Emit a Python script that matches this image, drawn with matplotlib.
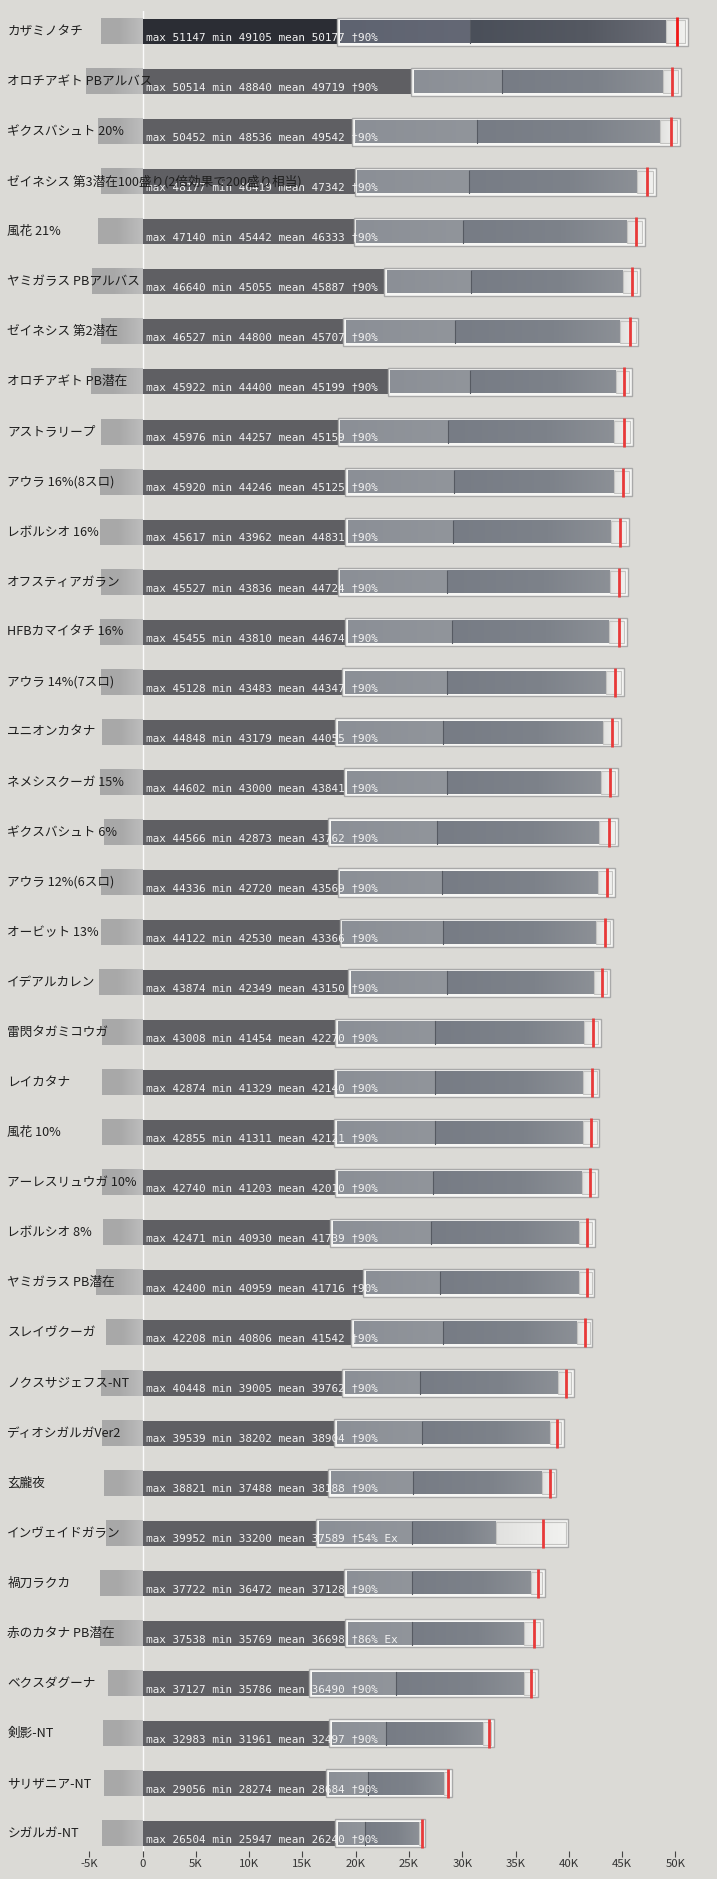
import matplotlib
matplotlib.use("Agg")
import matplotlib.pyplot as plt
import numpy as np
from matplotlib.patches import Rectangle
from matplotlib.colors import LinearSegmentedColormap
from matplotlib.transforms import blended_transform_factory

labels = [
    "カザミノタチ", "オロチアギト PBアルバス", "ギクスバシュト 20%",
    "ゼイネシス 第3潜在100盛り(2倍効果で200盛り相当)", "風花 21%",
    "ヤミガラス PBアルバス", "ゼイネシス 第2潜在", "オロチアギト PB潜在",
    "アストラリープ", "アウラ 16%(8スロ)", "レボルシオ 16%", "オフスティアガラン",
    "HFBカマイタチ 16%", "アウラ 14%(7スロ)", "ユニオンカタナ", "ネメシスクーガ 15%",
    "ギクスバシュト 6%", "アウラ 12%(6スロ)", "オービット 13%", "イデアルカレン",
    "雷閃タガミコウガ", "レイカタナ", "風花 10%", "アーレスリュウガ 10%",
    "レボルシオ 8%", "ヤミガラス PB潜在", "スレイヴクーガ", "ノクスサジェフス-NT",
    "ディオシガルガVer2", "玄朧夜", "インヴェイドガラン", "禍刀ラクカ",
    "赤のカタナ PB潜在", "ベクスダグーナ", "剣影-NT", "サリザニア-NT", "シガルガ-NT",
]

# negative part (left grey bar), in damage units
neg_part = [-3900, -5300, -4200, -3900, -4200, -4750, -3900, -4850, -3900, -4000,
            -4000, -3900, -4000, -3900, -3800, -4000, -3650, -3900, -3900, -4100,
            -3800, -3800, -3800, -3800, -3700, -4400, -3400, -3900, -3800, -3650,
            -3400, -4000, -4000, -3250, -3700, -3650, -3800]

# end of the dark base bar / start of the boxed part
base_part = [18270, 25200, 19700, 19900, 19800, 22700, 18800, 23000, 18300, 19000,
             19000, 18300, 19000, 18700, 18050, 18900, 17400, 18300, 18500, 19300,
             18050, 18000, 18000, 18050, 17600, 20700, 19600, 18700, 18000, 17400,
             16300, 18900, 19000, 15600, 17500, 17200, 18050]

# boundary between the two grey segments inside the box
mid_part = [30700, 33700, 31350, 30600, 30100, 30800, 29300, 30700, 28700, 29200,
            29100, 28600, 29000, 28600, 28200, 28600, 27600, 28100, 28200, 28600,
            27400, 27400, 27400, 27300, 27100, 27950, 28200, 26000, 26200, 25400,
            25300, 25300, 25300, 23750, 22800, 21200, 20900]

max_vals = [51147, 50514, 50452, 48177, 47140, 46640, 46527, 45922, 45976, 45920,
            45617, 45527, 45455, 45128, 44848, 44602, 44566, 44336, 44122, 43874,
            43008, 42874, 42855, 42740, 42471, 42400, 42208, 40448, 39539, 38821,
            39952, 37722, 37538, 37127, 32983, 29056, 26504]
min_vals = [49105, 48840, 48536, 46419, 45442, 45055, 44800, 44400, 44257, 44246,
            43962, 43836, 43810, 43483, 43179, 43000, 42873, 42720, 42530, 42349,
            41454, 41329, 41311, 41203, 40930, 40959, 40806, 39005, 38202, 37488,
            33200, 36472, 35769, 35786, 31961, 28274, 25947]
mean_vals = [50177, 49719, 49542, 47342, 46333, 45887, 45707, 45199, 45159, 45125,
             44831, 44724, 44674, 44347, 44055, 43841, 43762, 43569, 43366, 43150,
             42270, 42140, 42121, 42010, 41739, 41716, 41542, 39762, 38904, 38188,
             37589, 37128, 36698, 36490, 32497, 28684, 26240]
suffix = ["†90%"] * 37
suffix[30] = "†54% Ex"
suffix[32] = "†86% Ex"

xticks = list(range(-5000, 50001, 5000))

BG = "#dbdad6"


def hgrad(ax, x0, x1, y0, y1, colors, z):
    cmap = LinearSegmentedColormap.from_list("g", colors)
    ax.imshow(np.linspace(0, 1, 128)[None, :], cmap=cmap, extent=(x0, x1, y1, y0),
              aspect="auto", interpolation="bilinear", zorder=z)


fig = plt.figure(figsize=(7.17, 18.79), dpi=100, facecolor=BG)
ax = fig.add_axes([0, 0.0149, 1, 0.9792])
ax.set_facecolor(BG)

ax.axvline(0, color="#fafafa", lw=1, zorder=1)

pad = 260
for i in range(len(labels)):
    top = i == 0
    # left grey gradient bar
    hgrad(ax, neg_part[i], 0, i - 0.25, i + 0.25,
          [(0, "#a8a8a8"), (0.45, "#a9a9a9"), (1, "#bdbdbd")], 2)
    # dark base bar
    ax.add_patch(Rectangle((0, i - 0.25), base_part[i], 0.5,
                           facecolor="#2b2d34" if top else "#5f5f63", lw=0, zorder=2))
    # outer box
    ax.add_patch(Rectangle((base_part[i], i - 0.28), max_vals[i] - base_part[i], 0.56,
                           facecolor="#f7f7f5", edgecolor="#a9a9a9", lw=1, zorder=3))
    # segments inside the box
    if top:
        ca = ["#5e6370", "#646875"]
        cb = [(0, "#4a4f59"), (0.6, "#555962"), (1, "#6a6d76")]
    else:
        ca = ["#8b8f96", "#91959b"]
        cb = [(0, "#777c85"), (0.6, "#7d828a"), (1, "#8c9096")]
    hgrad(ax, base_part[i] + pad, mid_part[i], i - 0.225, i + 0.225, ca, 4)
    hgrad(ax, mid_part[i], min_vals[i], i - 0.225, i + 0.225, cb, 4)
    ax.plot([mid_part[i], mid_part[i]], [i - 0.225, i + 0.225],
            color="#565a62", lw=0.8, zorder=4.5)
    # min..max light part
    hgrad(ax, min_vals[i], max_vals[i] - pad, i - 0.225, i + 0.225,
          ["#e1e1df", "#f2f2f0"], 4)
    ax.add_patch(Rectangle((min_vals[i], i - 0.225), max_vals[i] - pad - min_vals[i], 0.45,
                           facecolor="none", edgecolor="#c4c4c2", lw=0.8, zorder=4.6))
    # mean marker
    ax.plot([mean_vals[i], mean_vals[i]], [i - 0.29, i + 0.29],
            color="#f01818" if top else "#e83a3a", lw=2, zorder=6, solid_capstyle="butt")
    # stats text
    ax.text(340, i + 0.17,
            f"max {max_vals[i]} min {min_vals[i]} mean {mean_vals[i]} {suffix[i]}",
            family="DejaVu Sans Mono", fontsize=7.9, color="#f2f2f2",
            va="baseline", ha="left", zorder=7)

trans = blended_transform_factory(ax.transAxes, ax.transData)
for i, lab in enumerate(labels):
    ax.text(0.0102, i, lab, transform=trans, ha="left", va="center",
            fontsize=9.1, color="#1e1e1e",
            family=["Noto Sans CJK JP", "DejaVu Sans"], zorder=8)

ax.set_xlim(-13370, 53900)
ax.set_ylim(36.35, -0.41)
for s in ax.spines.values():
    s.set_visible(False)
ax.set_yticks([])
ax.set_xticks(xticks)
ax.set_xticklabels(["0" if v == 0 else f"{v // 1000}K" for v in xticks],
                   family=["Noto Sans CJK JP", "DejaVu Sans"], fontsize=8.2, color="#333333")
ax.tick_params(axis="x", direction="out", length=4.3, width=0.8, color="#444444", pad=1.5)

fig.savefig("out.png", dpi=100, facecolor=BG)
